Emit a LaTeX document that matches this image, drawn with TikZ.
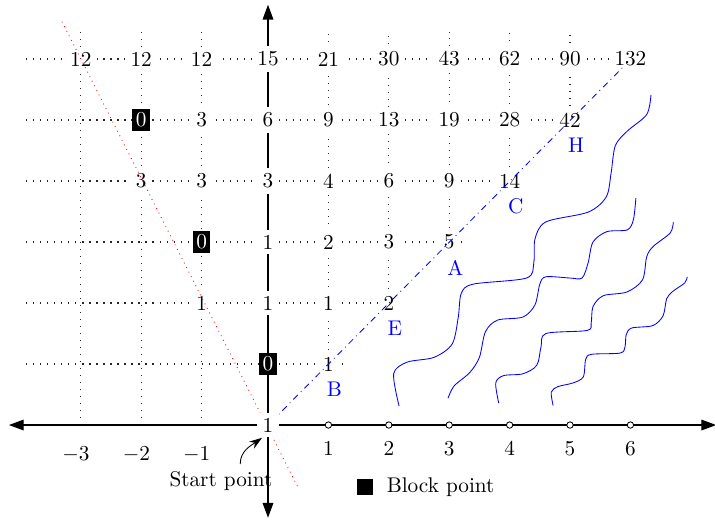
\documentclass[tikz,border=0pt]{standalone}
\usepackage{amsmath,amssymb}
\usetikzlibrary{arrows.meta,positioning}

\begin{document}
\begin{tikzpicture}[y=1.01cm,
  num/.style={fill=white, inner sep=2.5pt},
  blocked/.style={fill=black, text=white, inner sep=1.6pt},
  gridline/.style={black!85, line width=0.5pt, dash pattern=on 0.5pt off 2.8pt},
  axis/.style={{Triangle[length=7pt,width=5pt]}-{Triangle[length=7pt,width=5pt]}, semithick},
  tick/.style={draw, circle, fill=white, inner sep=0pt, minimum size=3pt},
  wave/.style={blue, thin},
  lbl/.style={text=blue}
]
\useasboundingbox (-4.437,-1.557) rectangle (7.40,6.967);
\foreach \k in {1,...,6} \draw[gridline] (-4,\k) -- (\k+0.22,\k);
\foreach \x in {-3,-2,-1} \draw[gridline] (\x-0.1,0) -- (\x-0.1,6.45);
\foreach \x in {1,...,5} \draw[gridline] (\x,\x) -- (\x,6.45);
\draw[axis] (-4.29,0) -- (7.42,0);
\draw[axis] (0,-1.52) -- (0,6.89);
\foreach \x in {1,...,6} {
  \node[tick] (t\x) at (\x,0) {};
  \node[below=0.1cm of t\x] (tl\x) {$\x$};
}
\foreach \x in {-3,-2,-1} \node (tl\x) at (\x-0.18,-0.49) {$\x$};
\foreach \c/\y/\v in {-3/6/12,-2/6/12,-1/6/12,0/6/15,1/6/21,2/6/30,3/6/43,4/6/62,5/6/90,6/6/132,
  -1/5/3,0/5/6,1/5/9,2/5/13,3/5/19,4/5/28,5/5/42,
  -2/4/3,-1/4/3,0/4/3,1/4/4,2/4/6,3/4/9,4/4/14,
  0/3/1,1/3/2,2/3/3,3/3/5,
  -1/2/1,0/2/1,1/2/1,2/2/2,
  1/1/1} {
  \pgfmathsetmacro{\px}{\c<0 ? \c-0.1 : \c}
  \node[num] (n\c\y) at (\px,\y) {\v};
}
\node[blocked] (b1) at (-2.1,5) {0};
\node[blocked] (b2) at (-1.1,3) {0};
\node[blocked] (b3) at (0,1) {0};
\draw[red, dotted] (-3.41,6.61) -- (0.5,-1.03);
\draw[blue, dash dot] (-0.13,-0.13) -- (5.88,5.87);
\draw[wave] plot[smooth] coordinates {(2.17,0.31) (2.08,0.84) (2.3,1.03) (2.75,1.11) (3.05,1.33) (3.15,1.77) (3.2,2.16) (3.4,2.31) (4.28,2.41) (4.4,2.66) (4.42,3.05) (4.6,3.33) (5.3,3.49) (5.6,3.74) (5.68,4.13) (5.75,4.58) (5.95,4.82) (6.27,5.09) (6.34,5.41)};
\draw[wave] plot[smooth] coordinates {(2.98,0.44) (3.08,0.64) (3.34,0.86) (3.5,1.11) (3.6,1.53) (3.8,1.72) (4.22,1.77) (4.42,1.97) (4.5,2.31) (4.6,2.43) (5.0,2.41) (5.2,2.41) (5.3,2.66) (5.38,3.0) (5.61,3.17) (5.95,3.2) (6.05,3.37) (6.09,3.72)};
\draw[wave] plot[smooth] coordinates {(3.82,0.36) (3.77,0.69) (3.9,0.81) (4.22,0.84) (4.45,0.98) (4.52,1.28) (4.6,1.5) (5.28,1.55) (5.35,1.67) (5.38,1.94) (5.55,2.12) (5.94,2.18) (6.2,2.38) (6.27,2.76) (6.38,2.93) (6.66,3.15) (6.71,3.33)};
\draw[wave] plot[smooth] coordinates {(4.72,0.32) (4.69,0.54) (4.8,0.63) (5.05,0.69) (5.22,0.79) (5.26,1.08) (5.36,1.16) (5.83,1.18) (5.91,1.28) (5.93,1.48) (6.02,1.59) (6.37,1.63) (6.54,1.79) (6.6,2.07) (6.7,2.19) (6.9,2.33) (6.94,2.43)};
\node[num] (o) at (0,0) {1};
\foreach \k/\t in {1/B,2/E,3/A,4/C,5/H} \node[lbl] (l\t) at (\k+0.1,\k-0.42) {\t};
\node (start) at (-0.78,-0.92) {Start point};
\draw[-{Stealth[length=6pt,width=4pt]}] ([xshift=0.32cm]start.north) to[out=90,in=215] (o.245);
\node[blocked, minimum size=0.27cm] (key) at (1.6,-1.02) {};
\node[right=0.1cm of key] (keytxt) {Block point};
\end{tikzpicture}
\end{document}
